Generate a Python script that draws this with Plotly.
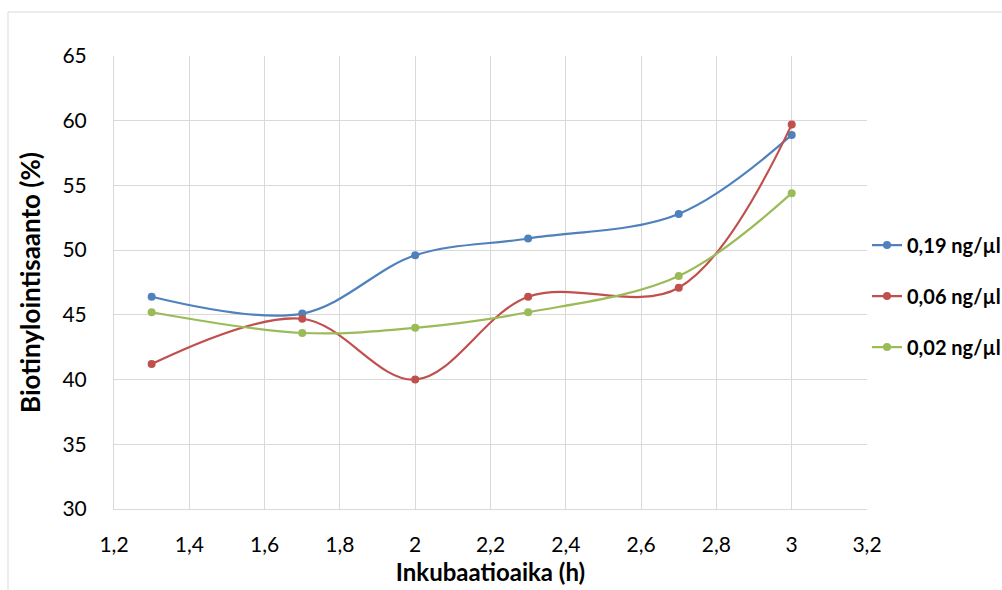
import plotly.graph_objects as go

# Incubation times (h) and biotinylation yields (%) per concentration
hours = [1.3, 1.7, 2.0, 2.3, 2.7, 3.0]
yield_019 = [46.4, 45.1, 49.6, 50.9, 52.8, 58.9]
yield_006 = [41.2, 44.7, 40.0, 46.4, 47.1, 59.7]
yield_002 = [45.2, 43.6, 44.0, 45.2, 48.0, 54.4]

series_names = ["0,19 ng/µl", "0,06 ng/µl", "0,02 ng/µl"]
series_values = [yield_019, yield_006, yield_002]
series_colors = ["#4F81BD", "#C0504D", "#9BBB59"]

x_ticks = [1.2, 1.4, 1.6, 1.8, 2.0, 2.2, 2.4, 2.6, 2.8, 3.0, 3.2]
x_tick_text = ["1,2", "1,4", "1,6", "1,8", "2", "2,2", "2,4", "2,6", "2,8", "3", "3,2"]
y_ticks = [30, 35, 40, 45, 50, 55, 60, 65]

FONT = "Lato, 'Open Sans', sans-serif"
GRID = "#D9D9D9"

fig = go.Figure()
for i, (name, vals, col) in enumerate(zip(series_names, series_values, series_colors)):
    fig.add_trace(go.Scatter(
        x=hours, y=vals, name=name, mode="lines+markers",
        line=dict(color=col, width=2.2, shape="spline", smoothing=1.0),
        marker=dict(color=col, size=8),
        legendgroup=f"g{i}",
    ))

fig.update_layout(
    width=1002, height=590,
    margin=dict(l=114, r=135, t=56, b=81, autoexpand=False),
    paper_bgcolor="white", plot_bgcolor="white",
    font=dict(family=FONT, color="#000000"),
    showlegend=True,
    legend=dict(
        x=1.0, xanchor="left", y=0.47, yanchor="middle",
        font=dict(family=FONT, size=20, color="#000000", weight="bold"),
        traceorder="grouped", tracegroupgap=22,
        bgcolor="rgba(0,0,0,0)", itemwidth=30,
    ),
    xaxis=dict(
        range=[1.2, 3.2], tickvals=x_ticks, ticktext=x_tick_text,
        showgrid=True, gridcolor=GRID, gridwidth=1,
        showline=True, linecolor=GRID, linewidth=1, mirror=False,
        zeroline=False, ticks="", ticklabelstandoff=17,
        tickfont=dict(family=FONT, size=21, color="#000000"),
        title=dict(text="Inkubaatioaika (h)", standoff=8,
                   font=dict(family=FONT, size=24, color="#000000", weight="bold")),
    ),
    yaxis=dict(
        range=[30, 65], tickvals=y_ticks,
        showgrid=True, gridcolor=GRID, gridwidth=1,
        showline=True, linecolor=GRID, linewidth=1,
        zeroline=False, ticks="", ticklabelstandoff=22,
        tickfont=dict(family=FONT, size=21, color="#000000"),
        title=dict(text="Biotinylointisaanto (%)", standoff=14,
                   font=dict(family=FONT, size=26, color="#000000", weight="bold")),
    ),
    shapes=[dict(
        type="rect", xref="paper", yref="paper",
        x0=(8 - 114) / 753, x1=(1030 - 114) / 753,
        y0=(509 - 620) / 453, y1=(509 - 12) / 453,
        line=dict(color="#D9D9D9", width=1), fillcolor="rgba(0,0,0,0)",
        layer="below",
    )],
)

fig.write_html("out.html")
